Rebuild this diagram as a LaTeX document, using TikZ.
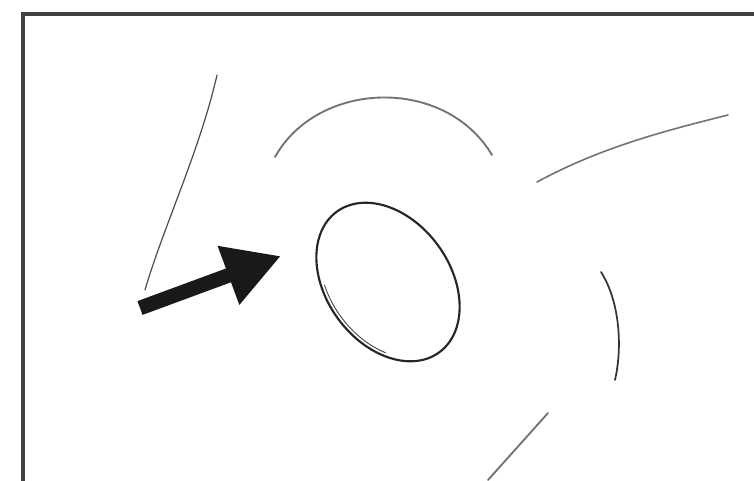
\documentclass[tikz,border=0pt]{standalone}
\usetikzlibrary{arrows.meta}
\begin{document}
\begin{tikzpicture}[x=0.75pt,y=-0.75pt,
  frame/.style={line width=3pt, black!75},
  stroke/.style={line cap=round},
  bigarrow/.style={line width=11pt, black!90, -{Triangle[length=42pt,width=44pt]}}]
\useasboundingbox (0,0) rectangle (754,480);
\fill[white] (0,0) rectangle (754,480);
% frame
\draw[frame] (23,484) -- (23,14) -- (758,14);
% strokes around
\coordinate (l1) at (217,75);
\coordinate (l2) at (145,290);
\draw[stroke, line width=0.9pt, black!70] (l1) .. controls (200,150) and (163,228) .. (l2);
\coordinate (t1) at (275,157);
\coordinate (t2) at (492,155);
\draw[stroke, line width=1.4pt, black!55] (t1) .. controls (318,80) and (445,76) .. (t2);
\coordinate (r1) at (537,182);
\coordinate (r2) at (728,115);
\draw[stroke, line width=1.2pt, black!55] (r1) .. controls (600,148) and (660,132) .. (r2);
\coordinate (a1) at (601,272);
\coordinate (a2) at (615,380);
\draw[stroke, line width=1.3pt, black!80] (a1) .. controls (619,300) and (623,345) .. (a2);
\coordinate (b1) at (548,413);
\coordinate (b2) at (488,480);
\draw[stroke, line width=1.4pt, black!55] (b1) -- (b2);
% arrow
\coordinate (tail) at (140,308);
\coordinate (tip) at (281,256);
\draw[bigarrow] (tail) -- (tip);
% ellipse
\coordinate (c) at (388,282);
\begin{scope}[rotate around={36:(c)}]
  \draw[line width=1.6pt, black!85] (c) ellipse [x radius=62, y radius=87];
  \draw[line width=0.7pt, black!70, domain=155:222, samples=30, smooth]
    plot ({388+58.5*cos(\x)},{282-83.5*sin(\x)});
\end{scope}
\end{tikzpicture}
\end{document}
